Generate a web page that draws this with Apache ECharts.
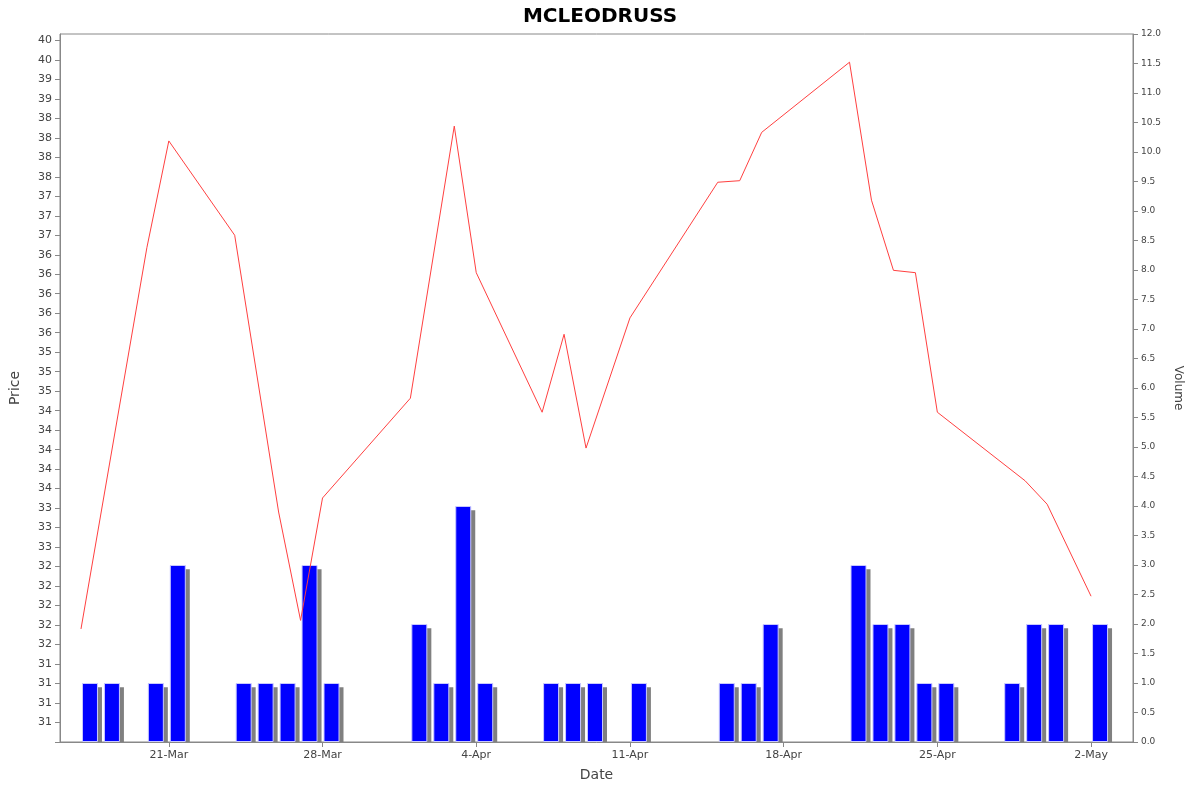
<!DOCTYPE html>
<html>
<head>
<meta charset="utf-8">
<script src="https://cdn.jsdelivr.net/npm/echarts@6/dist/echarts.min.js"></script>
<style>html,body{margin:0;background:#fff}#chart{width:1200px;height:792px}</style>
</head>
<body>
<div id="chart"></div>
<script>
// price line (closing price per trading day, 2014)
const priceDates = ['2014-03-17','2014-03-20','2014-03-21','2014-03-24','2014-03-26','2014-03-27','2014-03-28',
  '2014-04-01','2014-04-03','2014-04-04','2014-04-07','2014-04-08','2014-04-09','2014-04-11','2014-04-15',
  '2014-04-16','2014-04-17','2014-04-21','2014-04-22','2014-04-23','2014-04-24','2014-04-25','2014-04-29',
  '2014-04-30','2014-05-02']
const prices = [31.95, 36.84, 38.21, 37.0, 33.45, 32.06, 33.63, 34.91, 38.40, 36.52, 34.73, 35.73, 34.27,
  35.94, 37.68, 37.70, 38.32, 39.22, 37.45, 36.55, 36.52, 34.73, 33.85, 33.55, 32.37]

// volume bars
const volDates = ['2014-03-17','2014-03-18','2014-03-20','2014-03-21','2014-03-24','2014-03-25','2014-03-26',
  '2014-03-27','2014-03-28','2014-04-01','2014-04-02','2014-04-03','2014-04-04','2014-04-07','2014-04-08',
  '2014-04-09','2014-04-11','2014-04-15','2014-04-16','2014-04-17','2014-04-21','2014-04-22','2014-04-23',
  '2014-04-24','2014-04-25','2014-04-28','2014-04-29','2014-04-30','2014-05-02']
const volumes = [1, 1, 1, 3, 1, 1, 1, 3, 1, 2, 1, 4, 1, 1, 1, 1, 1, 1, 1, 2, 3, 2, 2, 1, 1, 1, 2, 2, 2]

// price axis tick labels (ticks every 0.25 from 30.75)
const priceLabels = ['31','31','31','31','32','32','32','32','32','33','33','33','34','34','34','34','34',
  '35','35','35','36','36','36','36','36','37','37','37','38','38','38','38','39','39','40','40']
const dateTicks = ['2014-03-21','2014-03-28','2014-04-04','2014-04-11','2014-04-18','2014-04-25','2014-05-02']
const months = ['Jan','Feb','Mar','Apr','May','Jun','Jul','Aug','Sep','Oct','Nov','Dec']

const DAY = 86400000
const t = s => Date.parse(s + 'T00:00:00Z')

const chart = echarts.init(document.getElementById('chart'))
const font = 'DejaVu Sans'
chart.setOption({
  animation: false,
  backgroundColor: '#fff',
  title: {
    text: 'MCLEODRUSS', left: 'center', top: 2,
    textStyle: { fontFamily: font, fontSize: 20, fontWeight: 'bold', color: '#000' }
  },
  grid: { left: 59, right: 67, top: 34, bottom: 50, show: true, borderColor: '#888', borderWidth: 1 },
  xAxis: {
    type: 'value',
    min: t('2014-03-17') - 0.956 * DAY,
    max: t('2014-05-02') + 1.91 * DAY,
    name: 'Date', nameLocation: 'middle', nameGap: 26,
    nameTextStyle: { fontFamily: font, fontSize: 14, color: '#444' },
    axisLine: { lineStyle: { color: '#888' } },
    axisTick: { customValues: dateTicks.map(t), lineStyle: { color: '#888' } },
    axisLabel: {
      customValues: dateTicks.map(t), fontFamily: font, fontSize: 11, color: '#444',
      formatter: v => { const d = new Date(v); return d.getUTCDate() + '-' + months[d.getUTCMonth()] }
    },
    splitLine: { show: false }
  },
  yAxis: [{
    type: 'value', min: 30.5, max: 30.5 + 708 / 77.96, interval: 0.25,
    name: 'Price', nameLocation: 'middle', nameGap: 38,
    nameTextStyle: { fontFamily: font, fontSize: 14, color: '#444' },
    axisLine: { show: true, lineStyle: { color: '#888' } },
    axisTick: { show: true, lineStyle: { color: '#888' } },
    axisLabel: {
      fontFamily: font, fontSize: 11, color: '#444', showMaxLabel: false,
      formatter: v => { const i = Math.round((v - 30.75) / 0.25); return priceLabels[i] || '' }
    },
    splitLine: { show: false }
  }, {
    type: 'value', min: 0, max: 12, interval: 0.5, position: 'right',
    name: 'Volume', nameLocation: 'middle', nameGap: 38, nameRotate: -90,
    nameTextStyle: { fontFamily: font, fontSize: 12, color: '#444' },
    axisLine: { show: true, lineStyle: { color: '#888' } },
    axisTick: { show: true, lineStyle: { color: '#888' } },
    axisLabel: { fontFamily: font, fontSize: 9, color: '#444', formatter: v => v.toFixed(1) },
    splitLine: { show: false }
  }],
  series: [{
    type: 'bar', yAxisIndex: 1, z: 3, barWidth: 16, barGap: '-75%',
    data: volDates.map((d, i) => [t(d) + DAY / 2, volumes[i]]),
    itemStyle: { color: '#0000ff', borderColor: '#c8c8ff', borderWidth: 1 }
  }, {
    type: 'bar', yAxisIndex: 1, z: 2, barWidth: 16,
    data: volDates.map((d, i) => [t(d) + DAY / 2, volumes[i] - 0.07]),
    itemStyle: { color: '#808080' }
  }, {
    type: 'line', yAxisIndex: 0, z: 4, symbol: 'none',
    data: priceDates.map((d, i) => [t(d), prices[i]]),
    lineStyle: { color: '#ff4040', width: 1 }
  }]
})
</script>
</body>
</html>
